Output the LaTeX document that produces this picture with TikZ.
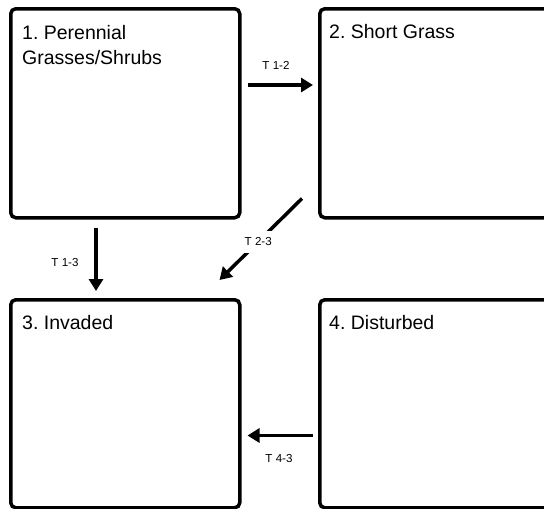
\documentclass[tikz,border=0pt]{standalone}
\usepackage{fontspec}
\setmainfont{Liberation Sans}
\usetikzlibrary{arrows.meta,calc}
\frenchspacing
\begin{document}
\begin{tikzpicture}[x=1pt,y=-1pt,
  statebox/.style={draw=black, line width=3.5pt, rounded corners=5pt, anchor=north west, inner sep=0pt},
  boxtext/.style={anchor=base west, inner sep=0pt, align=left, font=\fontsize{19.5}{25}\selectfont},
  arr/.style={line width=3.5pt, -{Triangle[length=12pt,width=14pt]}},
  tlabel/.style={inner sep=0pt, font=\fontsize{11.6}{14}\selectfont}]
\useasboundingbox (0,0) rectangle (544,509);
\clip (0,0) rectangle (544,509);
% boxes
\node[statebox, minimum width=229pt, minimum height=209pt] (b1) at (9,7) {};
\node[statebox, minimum width=260pt, minimum height=209pt] (b2) at (318,7) {};
\node[statebox, minimum width=229pt, minimum height=208pt] (b3) at (9,298) {};
\node[statebox, minimum width=260pt, minimum height=208pt] (b4) at (318,298) {};
% box texts
\node[boxtext] (t1) at (22,64) {1. Perennial\\Grasses/Shrubs};
\node[boxtext] (t2) at (329,38) {2. Short Grass};
\node[boxtext] (t3) at (22,329) {3. Invaded};
\node[boxtext] (t4) at (329,329) {4. Disturbed};
% arrows
\draw[arr] ($(b1.north east)+(6,78)$) -- ($(b2.north west)+(-5,78)$);
\node[tlabel] (l12) at (276,65) {T 1-2};
\draw[arr] ($(b1.south west)+(87,8)$) -- ($(b3.north west)+(87,-7)$);
\node[tlabel] (l13) at (65,263) {T 1-3};
\draw[arr] ($(b2.south west)+(-16,-21)$) -- ($(b3.north east)+(-22,-18)$)
  node[pos=0.53, tlabel, fill=white, inner sep=7pt] (l23) {T 2-3};
\draw[arr] ($(b4.south west)+(-5,-74)$) -- ($(b3.south east)+(6,-74)$);
\node[tlabel] (l43) at (279,459) {T 4-3};
\end{tikzpicture}
\end{document}
